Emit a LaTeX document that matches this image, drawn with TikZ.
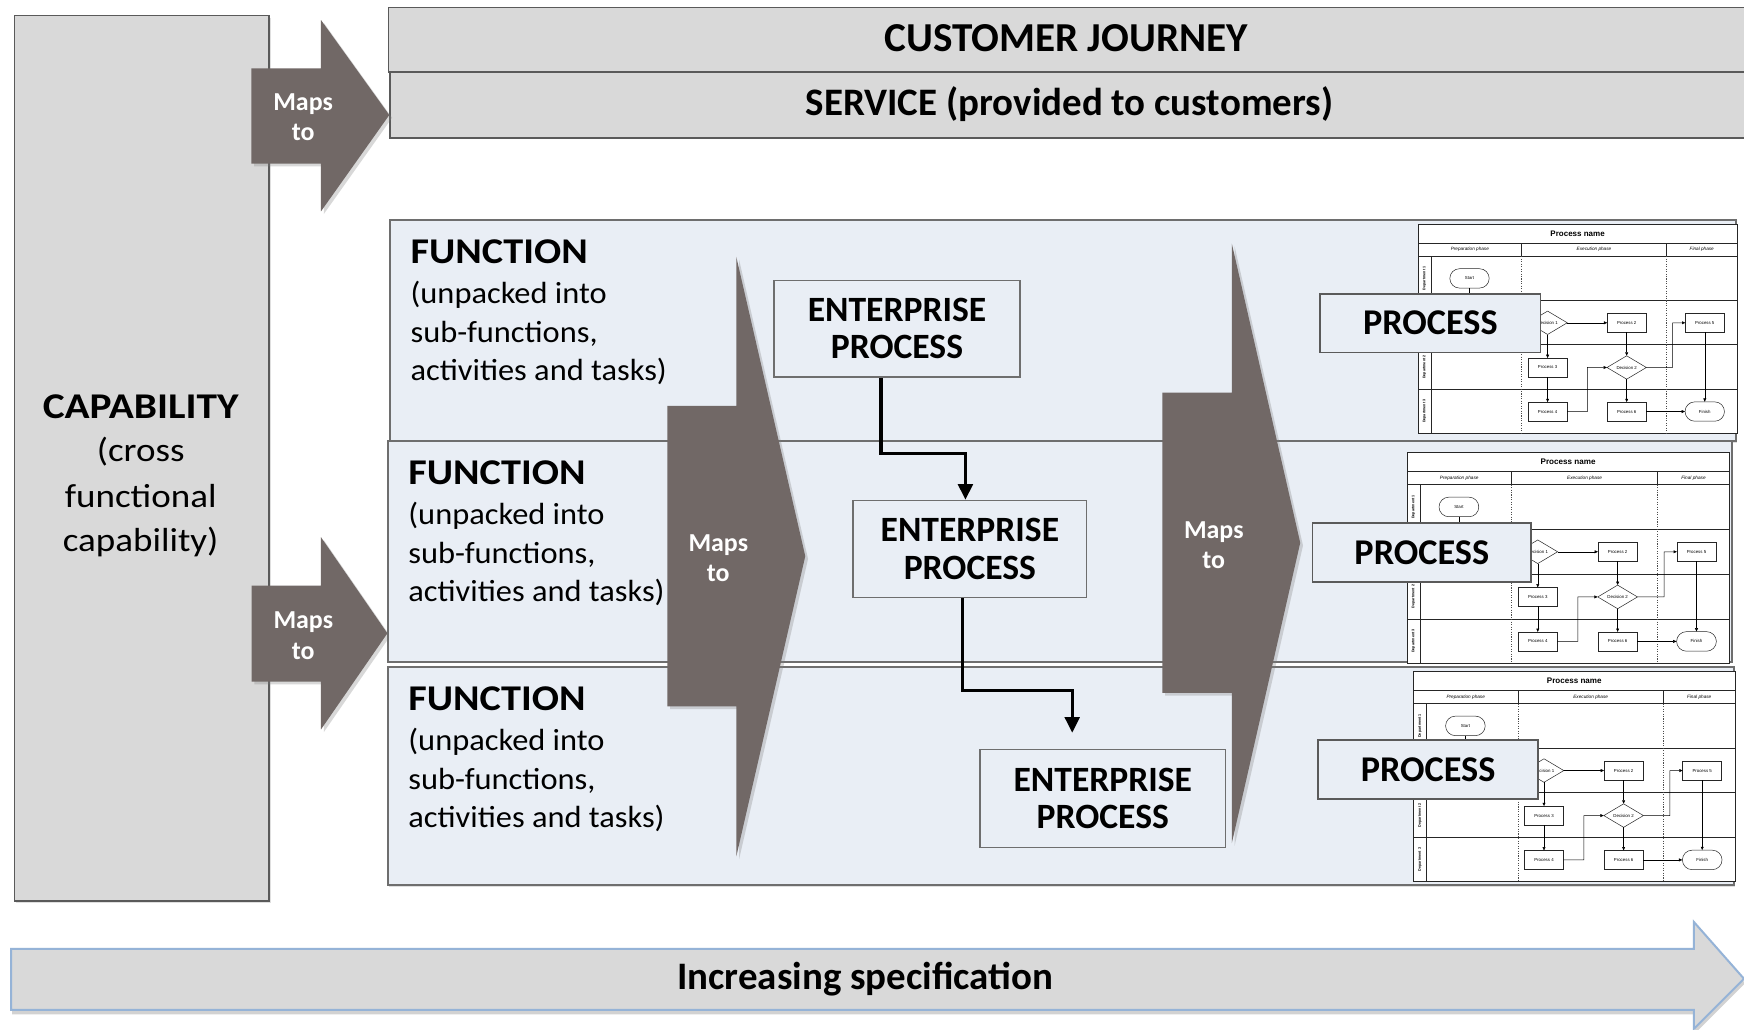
\documentclass[tikz,border=0pt]{standalone}
\usepackage{fontspec}
\setmainfont{Carlito}
\newfontfamily\widefont{Carlito}[FakeStretch=1.11]
\newfontfamily\capfont{Carlito}[FakeStretch=1.14]
\newfontfamily\midfont{Carlito}[FakeStretch=1.06]
\newfontfamily\swfont{Liberation Sans}
\usetikzlibrary{shapes.geometric,shapes.misc,arrows.meta,shadows}
\definecolor{boxgray}{HTML}{D9D9D9}
\definecolor{edgegray}{HTML}{5A5A5A}
\definecolor{funcedge}{HTML}{6E6E6E}
\definecolor{funcblue}{HTML}{E9EEF5}
\definecolor{taupe}{HTML}{716866}
\definecolor{specedge}{HTML}{95B3D7}
\newcommand\myfs[2]{\fontsize{#1}{#2}\selectfont}
\newcommand\swimlane[4]{%
\begin{scope}[shift={(#2,#3)}, scale=#4, transform shape]
 \fill[white] (0,0) rectangle (957,625);
 \draw[swline] (0,0) rectangle (957,625) (0,55) -- (957,55) (0,95) -- (957,95)
   (310,55) -- (310,95) (743,55) -- (743,95) (38,95) -- (38,625)
   (0,227) -- (957,227) (0,360) -- (957,360) (0,493) -- (957,493);
 \draw[swdash] (310,95) -- (310,625) (743,95) -- (743,625);
 \node[swtitle] (#1title) at (478,28) {Process name};
 \node[swphase] (#1ha) at (155,75) {Preparation phase};
 \node[swphase] (#1hb) at (527,75) {Execution phase};
 \node[swphase] (#1hc) at (850,75) {Final phase};
 \node[swlane] (#1la) at (19,161) {Department 1};
 \node[swlane] (#1lc) at (19,427) {Department 2};
 \node[swlane] (#1ld) at (19,559) {Department 3};
 \node[swterm] (#1start) at (154,161) {Start};
 \node[swdec] (#1da) at (388,294) {Decision 1};
 \node[swbox] (#1pr2) at (625,294) {Process 2};
 \node[swbox] (#1pr5) at (859,294) {Process 5};
 \node[swbox] (#1pr3) at (388,428) {Process 3};
 \node[swdec] (#1db) at (625,428) {Decision 2};
 \node[swbox] (#1pr4) at (388,560) {Process 4};
 \node[swbox] (#1pr6) at (625,560) {Process 6};
 \node[swterm] (#1fin) at (859,560) {Finish};
 \draw[swarrow] (#1start.south) |- (#1da.west);
 \draw[swarrow] (#1da.east) -- (#1pr2.west);
 \draw[swarrow] (#1da.south) -- (#1pr3.north);
 \draw[swarrow] (#1pr3.south) -- (#1pr4.north);
 \draw[swarrow] (#1pr4.east) -- (507,560) |- (#1db.west);
 \draw[swarrow] (#1pr2.south) -- (#1db.north);
 \draw[swarrow] (#1db.east) -- (763,428) |- (#1pr5.west);
 \draw[swarrow] (#1db.south) -- (#1pr6.north);
 \draw[swarrow] (#1pr6.east) -- (#1fin.west);
 \draw[swarrow] (#1pr5.south) -- (#1fin.north);
\end{scope}}
\begin{document}
\begin{tikzpicture}[x=1pt,y=-1pt,
 graybox/.style={draw=edgegray, line width=1.4pt, fill=boxgray, inner sep=0, anchor=north west},
 funcbox/.style={draw=funcedge, line width=1.8pt, fill=funcblue, inner sep=0, anchor=north west, drop shadow={opacity=0.25, shadow xshift=1.2pt, shadow yshift=-1.5pt}},
 epbox/.style={draw=funcedge, line width=1.3pt, fill=funcblue, inner sep=0, align=center, font={\bfseries\myfs{32}{33.5}}},
 procbox/.style={draw=edgegray, line width=1.6pt, fill=funcblue, inner sep=0, minimum height=53, font={\bfseries\myfs{32.6}{34}}},
 mapsshape/.style={fill=taupe, drop shadow={opacity=0.3, shadow xshift=2.5pt, shadow yshift=-2.5pt}},
 mapstext/.style={text=white, inner sep=0, align=center, font={\bfseries\myfs{23.3}{27.3}}},
 flowline/.style={line width=3pt, -{Triangle[width=13pt,length=14pt]}},
 toptext/.style={anchor=base, inner sep=0, font={\bfseries\myfs{36}{40}}},
 captitle/.style={anchor=base, inner sep=0, font={\capfont\bfseries\myfs{32.6}{36}}},
 capline/.style={anchor=base, inner sep=0, font={\widefont\myfs{30}{36}}},
 functitle/.style={anchor=base west, inner sep=0, font={\widefont\bfseries\myfs{32.6}{36}}},
 funcline/.style={anchor=base west, inner sep=0, font={\midfont\myfs{27.5}{32}}},
 swline/.style={line width=0.55pt, draw=black!85},
 swdash/.style={line width=0.5pt, draw=black!70, dash pattern=on 1pt off 1.2pt},
 swbox/.style={draw=black!85, line width=0.45pt, fill=white, minimum width=116, minimum height=56, inner sep=0, font={\swfont\myfs{13}{14}}},
 swterm/.style={swbox, shape=rounded rectangle, minimum width=118, minimum height=58},
 swdec/.style={swbox, shape=diamond, minimum width=118, minimum height=58},
 swtitle/.style={inner sep=0, font={\swfont\bfseries\myfs{24}{26}}},
 swphase/.style={inner sep=0, font={\swfont\itshape\myfs{14}{15}}},
 swlane/.style={inner sep=0, rotate=90, font={\swfont\bfseries\myfs{11}{12}}},
 swarrow/.style={draw=black, line width=0.45pt, -{Triangle[width=2.6pt,length=3pt]}}
]
\useasboundingbox (0,0) rectangle (1568,926);
\clip (0,0) rectangle (1568,926);
\fill[white] (0,0) rectangle (1568,926);

% capability column
\node[graybox, minimum width=229, minimum height=796, drop shadow={opacity=0.25, shadow xshift=1.5pt, shadow yshift=-2pt}] (cap) at (12.4,13.2) {};
\node[captitle] (capt1) at (126.5,376) {CAPABILITY};
\node[capline] (capt2) at (126.5,415) {(cross};
\node[capline] (capt3) at (126.5,456) {functional};
\node[capline] (capt4) at (126.5,496) {capability)};

% journey and service bands
\node[graybox, minimum width=1240, minimum height=57.8] (cj) at (348.5,6) {};
\node[toptext, font={\bfseries\myfs{37}{40}}] (cjt) at (958.5,46.5) {CUSTOMER JOURNEY};
\node[graybox, minimum width=1240, minimum height=59.5] (sv) at (350,64) {};
\node[toptext, font={\bfseries\myfs{35}{40}}] (svt) at (961.5,103.5) {SERVICE (provided to customers)};

% small maps-to arrows
\fill[mapsshape] (226,61.4) -- (288.6,61.4) -- (288.6,18) -- (350,103.4) -- (288.6,190) -- (288.6,147) -- (226,147) -- cycle;
\node[mapstext] (m1) at (272.5,105.6) {Maps\\to};
\fill[mapsshape] (226.3,526.6) -- (288.6,526.6) -- (288.6,483) -- (348.3,569.4) -- (288.6,655.8) -- (288.6,612.9) -- (226.3,612.9) -- cycle;
\node[mapstext] (m2) at (272.7,571.6) {Maps\\to};

% function bands
\node[funcbox, minimum width=1210, minimum height=198.5] (f1) at (350,197) {};
\node[funcbox, minimum width=1208, minimum height=198] (f2) at (348,396) {};
\node[funcbox, minimum width=1210, minimum height=196] (f3) at (348,599) {};

\node[functitle] (f1a) at (369,237) {FUNCTION};
\node[funcline] (f1b) at (369,273) {(unpacked into};
\node[funcline] (f1c) at (369,307.5) {sub-functions,};
\node[funcline] (f1d) at (369,342) {activities and tasks)};

\node[functitle] (f2a) at (367,436) {FUNCTION};
\node[funcline] (f2b) at (367,472) {(unpacked into};
\node[funcline] (f2c) at (367,506.5) {sub-functions,};
\node[funcline] (f2d) at (367,541) {activities and tasks)};

\node[functitle] (f3a) at (367,639) {FUNCTION};
\node[funcline] (f3b) at (367,675) {(unpacked into};
\node[funcline] (f3c) at (367,709.5) {sub-functions,};
\node[funcline] (f3d) at (367,744) {activities and tasks)};

% big maps-to arrows
\fill[mapsshape] (600,365) -- (662,365) -- (662,231) -- (724,500) -- (662,770) -- (662,635) -- (600,635) -- cycle;
\node[mapstext] (m3) at (645.8,502) {Maps\\to};
\fill[mapsshape] (1045,353) -- (1107.5,353) -- (1107.5,219) -- (1169,488) -- (1107.5,758) -- (1107.5,623) -- (1045,623) -- cycle;
\node[mapstext] (m4) at (1091.3,490) {Maps\\to};

% enterprise processes
\node[epbox, minimum width=221, minimum height=87] (ep1) at (806.5,295.5) {ENTERPRISE\\PROCESS};
\node[epbox, minimum width=210, minimum height=87] (ep2) at (872,493.5) {ENTERPRISE\\PROCESS};
\node[epbox, minimum width=221, minimum height=88] (ep3) at (991.5,718) {ENTERPRISE\\PROCESS};
\draw[flowline] ([xshift=-14.5pt]ep1.south) -- ++(0,68) -| ([xshift=-4pt]ep2.north);
\draw[flowline, shorten >=14.5pt] ([xshift=-6.6pt]ep2.south) -- ++(0,83) -| ([xshift=-27.5pt]ep3.north);

% process flowcharts
\swimlane{da}{1275}{202}{0.3}
\swimlane{db}{1265}{407}{0.303}
\swimlane{dc}{1271}{604}{0.302}
\node[procbox, minimum width=198] (pr1) at (1286,290.5) {PROCESS};
\node[procbox, minimum width=196.5] (pr2) at (1278.3,497) {PROCESS};
\node[procbox, minimum width=198] (pr3) at (1284,692) {PROCESS};

% increasing specification arrow
\filldraw[fill=boxgray, draw=specedge, line width=1.8pt, drop shadow={opacity=0.35, shadow xshift=1pt, shadow yshift=-4pt}] (10,853) -- (1523,853) -- (1523,829) -- (1568,880) -- (1523,925) -- (1523,908) -- (10,908) -- cycle;
\node[toptext, font={\bfseries\myfs{35}{40}}] (spec) at (778,890) {Increasing specification};
\end{tikzpicture}
\end{document}
